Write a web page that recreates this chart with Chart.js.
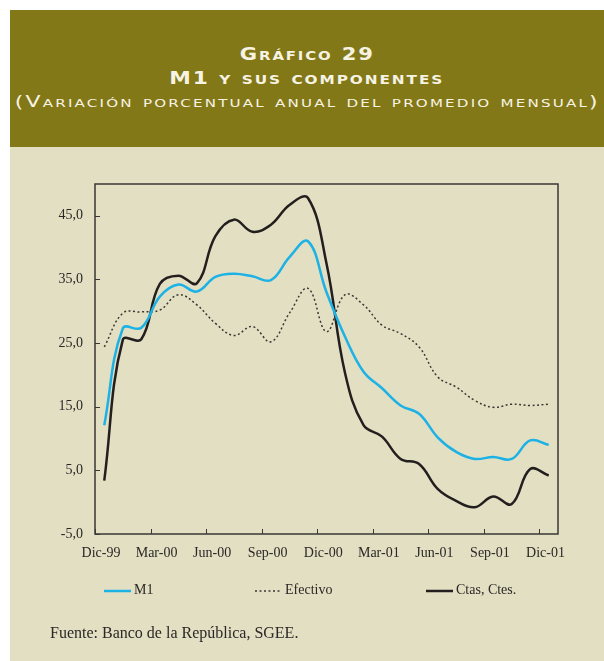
<!DOCTYPE html>
<html>
<head>
<meta charset="utf-8">
<script src="https://cdn.jsdelivr.net/npm/chart.js@4"></script>
<style>
  body { margin: 0; background: #fff; width: 604px; height: 661px; position: relative; overflow: hidden; }
  #head { position: absolute; left: 10px; top: 10px; width: 594px; height: 137px; background: #837818; color: #f7f3e3; font-family: "DejaVu Sans", sans-serif; font-variant: small-caps; text-align: center; }
  #head div { position: absolute; left: 0; width: 100%; white-space: nowrap; }
  #head span { display: inline-block; transform-origin: 50% 50%; }
  #t1 { top: 34px; font-size: 17px; font-weight: bold; letter-spacing: 1.5px; }
  #t2 { top: 58px; font-size: 17px; font-weight: bold; letter-spacing: 1.5px; }
  #t3 { top: 82px; font-size: 16px; letter-spacing: 1.6px; }
  #panel { position: absolute; left: 10px; top: 147px; width: 594px; height: 514px; background: #e3dfc3; }
  #wrap { position: absolute; left: 0; top: 0; width: 594px; height: 514px; }
  #source { position: absolute; left: 40px; top: 477px; font-family: "Liberation Serif", serif; font-size: 16px; color: #2a2826; }
</style>
</head>
<body>
<div id="head">
  <div id="t1"><span>Gráfico 29</span></div>
  <div id="t2"><span>M1 y sus componentes</span></div>
  <div id="t3"><span>(Variación porcentual anual del promedio mensual)</span></div>
</div>
<div id="panel">
  <div id="wrap"><canvas id="chart"></canvas></div>
  <div id="source">Fuente: Banco de la República, SGEE.</div>
</div>
<script>
"use strict";

const months = ["Dic-99", "Ene-00", "Feb-00", "Mar-00", "Abr-00", "May-00", "Jun-00",
  "Jul-00", "Ago-00", "Sep-00", "Oct-00", "Nov-00", "Dic-00", "Ene-01", "Feb-01",
  "Mar-01", "Abr-01", "May-01", "Jun-01", "Jul-01", "Ago-01", "Sep-01", "Oct-01",
  "Nov-01", "Dic-01"];

const m1 = [12.1, 27.3, 27.4, 32.3, 34.2, 33.1, 35.4, 35.9, 35.5, 34.9, 38.5, 41.0,
  33.0, 26.0, 20.5, 17.9, 15.2, 13.9, 10.2, 7.9, 6.8, 7.1, 6.8, 9.7, 9.0];
const efectivo = [24.4, 29.7, 29.9, 30.2, 32.6, 31.0, 28.1, 26.2, 27.6, 25.2, 29.7, 33.6,
  26.8, 32.6, 31.0, 27.8, 26.5, 24.4, 19.7, 18.1, 16.0, 14.9, 15.4, 15.2, 15.4];
const ctas = [3.4, 25.5, 25.6, 34.3, 35.6, 34.4, 41.8, 44.4, 42.5, 43.6, 46.7, 47.8,
  37.5, 20.3, 12.1, 10.3, 6.8, 6.0, 2.1, 0.2, -0.8, 0.9, -0.3, 5.2, 4.2];

const yTicks = [-5, 5, 15, 25, 35, 45];
const xTicks = [-0.5, 2.5, 5.5, 8.5, 11.5, 14.5, 17.5, 20.5, 23.5];

const serif = "'Liberation Serif', 'Times New Roman', serif";
const legendX = [94, 245, 416];

// the print uses a wide face: stretch the title lines to their printed widths
const titleWidths = { t1: 135, t2: 275, t3: 585 };
Object.keys(titleWidths).forEach((id) => {
  const span = document.querySelector("#" + id + " span");
  const w = span.getBoundingClientRect().width;
  span.style.transform = "scaleX(" + (titleWidths[id] / w) + ")";
});

function toPoints(values) {
  return values.map((v, i) => ({ x: i, y: v }));
}

const framePlugin = {
  id: "frame",
  afterDraw(chart) {
    const { ctx, chartArea: a, scales } = chart;
    ctx.save();
    ctx.strokeStyle = "#3a3834";
    ctx.lineWidth = 1.5;
    ctx.strokeRect(a.left, a.top, a.right - a.left, a.bottom - a.top);

    ctx.lineWidth = 1;
    ctx.beginPath();
    scales.y.ticks.forEach((t) => {
      const py = Math.round(scales.y.getPixelForValue(t.value)) + 0.5;
      ctx.moveTo(a.left, py);
      ctx.lineTo(a.left + 5, py);
    });
    scales.x.ticks.forEach((t) => {
      const px = Math.round(scales.x.getPixelForValue(t.value)) + 0.5;
      ctx.moveTo(px, a.bottom);
      ctx.lineTo(px, a.bottom - 5);
    });
    ctx.stroke();

    // legend, one entry per dataset
    ctx.font = "14px " + serif;
    ctx.textBaseline = "middle";
    ctx.fillStyle = "#2a2826";
    chart.data.datasets.forEach((ds, i) => {
      const x0 = legendX[i];
      const y0 = 444;
      ctx.strokeStyle = ds.borderColor;
      ctx.lineWidth = ds.borderWidth;
      ctx.setLineDash(ds.borderDash || []);
      ctx.beginPath();
      ctx.moveTo(x0, y0);
      ctx.lineTo(x0 + 27, y0);
      ctx.stroke();
      ctx.setLineDash([]);
      ctx.fillText(ds.label, x0 + 30, y0 - 1);
    });
    ctx.restore();
  },
};

const chart = new Chart(document.getElementById("chart"), {
  type: "line",
  data: {
    datasets: [
      {
        label: "M1",
        data: toPoints(m1),
        borderColor: "#1cb2e6",
        borderWidth: 2.5,
        tension: 0.4,
        pointRadius: 0,
      },
      {
        label: "Efectivo",
        data: toPoints(efectivo),
        borderColor: "#3a3834",
        borderWidth: 1.5,
        borderDash: [2, 2.5],
        tension: 0.4,
        pointRadius: 0,
      },
      {
        label: "Ctas, Ctes.",
        data: toPoints(ctas),
        borderColor: "#231f1e",
        borderWidth: 2.5,
        tension: 0.4,
        pointRadius: 0,
      },
    ],
  },
  options: {
    responsive: true,
    maintainAspectRatio: false,
    animation: false,
    layout: { padding: { left: 0, right: 46, top: 37, bottom: 91 } },
    plugins: { legend: { display: false }, tooltip: { enabled: false } },
    scales: {
      x: {
        type: "linear",
        min: -0.5,
        max: 24.5,
        grid: { display: false, drawTicks: false },
        border: { display: false },
        afterBuildTicks: (s) => { s.ticks = xTicks.map((v) => ({ value: v })); },
        afterFit: (s) => { s.height = 36; },
        ticks: {
          padding: 11,
          labelOffset: 6,
          maxRotation: 0,
          autoSkip: false,
          color: "#2a2826",
          font: { family: serif, size: 14 },
          callback: (v) => months[Math.round(v + 0.5)],
        },
      },
      y: {
        min: -5,
        max: 50,
        grid: { display: false, drawTicks: false },
        border: { display: false },
        afterBuildTicks: (s) => { s.ticks = yTicks.map((v) => ({ value: v })); },
        afterFit: (s) => { s.width = 85; },
        ticks: {
          padding: 12,
          color: "#2a2826",
          font: { family: serif, size: 14 },
          callback: (v) => v.toFixed(1).replace(".", ","),
        },
      },
    },
  },
  plugins: [framePlugin],
});
</script>
</body>
</html>
